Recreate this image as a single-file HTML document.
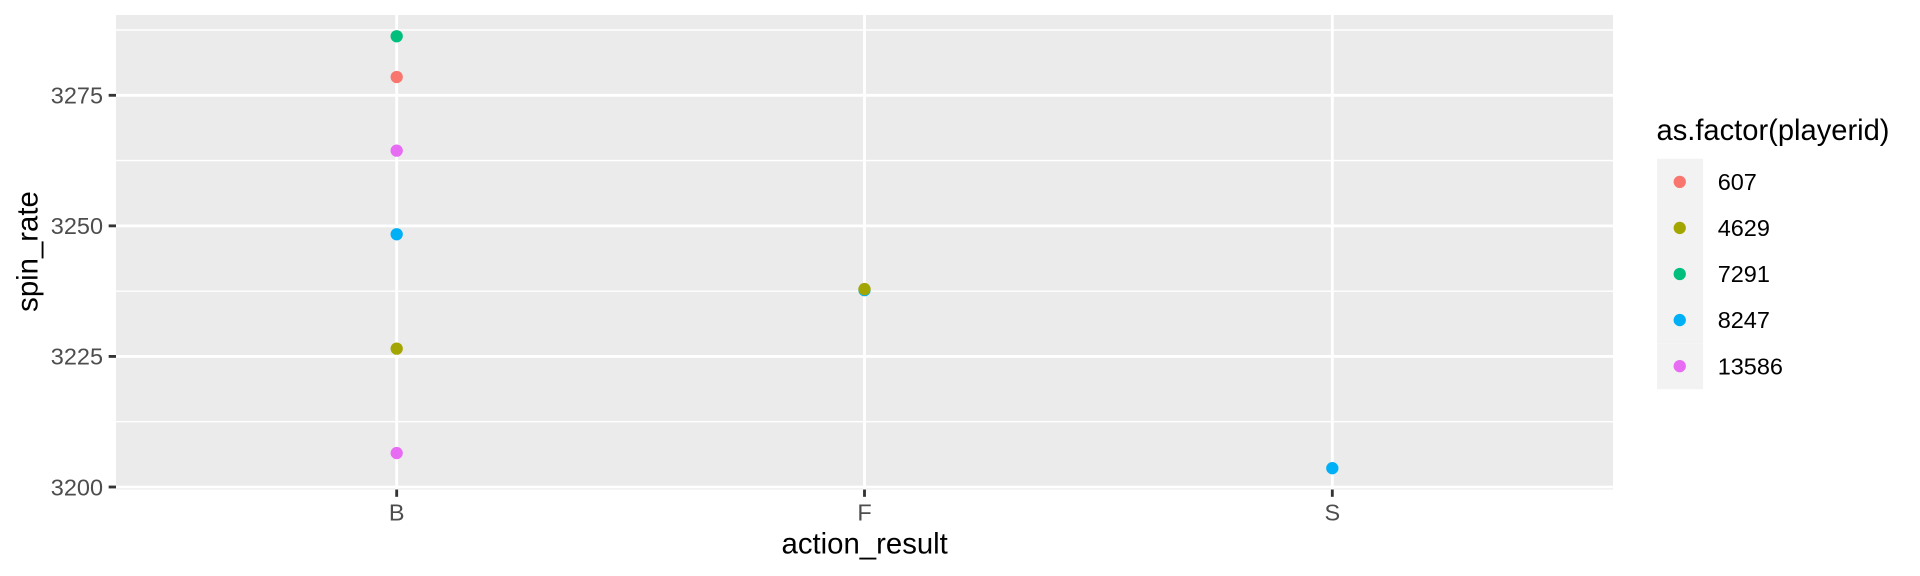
<!DOCTYPE html>
<html lang="en">
<head>
<meta charset="utf-8">
<title>spin_rate by action_result</title>
<style>
  html, body { margin: 0; padding: 0; background: #fff; }
  svg { display: block; font-family: "Liberation Sans", sans-serif; }
</style>
</head>
<body>
<svg id="chart" xmlns="http://www.w3.org/2000/svg" width="1920" height="576" viewBox="0 0 1920 576">
  <rect x="0" y="0" width="1920" height="576" fill="#ffffff"/>
  <rect x="116" y="15" width="1497" height="474.5" fill="#EBEBEB"/>
  <g id="grid"></g>
  <g id="points"></g>
  <g id="axes"></g>
  <text x="864.7" y="553.4" font-size="29.33" text-anchor="middle" fill="#000">action_result</text>
  <text transform="translate(37.5 251.5) rotate(-90)" font-size="29.33" text-anchor="middle" fill="#000">spin_rate</text>
  <g id="legend">
    <text x="1656.5" y="140" font-size="29.33" textLength="233" lengthAdjust="spacingAndGlyphs" fill="#000">as.factor(playerid)</text>
  </g>
</svg>
<script>
const categories = ['B', 'F', 'S'];
const players = ['607', '4629', '7291', '8247', '13586'];
const playerColors = ['#F8766D', '#A3A500', '#00BF7D', '#00B0F6', '#E76BF3'];
const pointCategories = ['B', 'B', 'B', 'B', 'B', 'B', 'F', 'F', 'S'];
const pointPlayers = ['7291', '607', '13586', '8247', '4629', '13586', '8247', '4629', '8247'];
const pointValues = [3286.3, 3278.5, 3264.4, 3248.4, 3226.5, 3206.5, 3237.7, 3237.9, 3203.6];
const yMajorTicks = [3200, 3225, 3250, 3275];
const yMinorTicks = [3212.5, 3237.5, 3262.5, 3287.5];

const SVG_NS = 'http://www.w3.org/2000/svg';
const panelLeft = 116, panelRight = 1613, panelTop = 14.97, panelBottom = 489.77;
const yDomainMin = 3199.47, yDomainMax = 3290.38;

function xScale(category) {
  const unit = (panelRight - panelLeft) / (categories.length - 1 + 1.2);
  return panelLeft + (0.6 + categories.indexOf(category)) * unit;
}
function yScale(value) {
  return panelBottom - (value - yDomainMin) / (yDomainMax - yDomainMin) * (panelBottom - panelTop);
}
function make(tag, parent, props) {
  const node = document.createElementNS(SVG_NS, tag);
  for (const key in props) node.setAttribute(key, props[key]);
  parent.appendChild(node);
  return node;
}

const grid = document.getElementById('grid');
const points = document.getElementById('points');
const axes = document.getElementById('axes');
const legend = document.getElementById('legend');

yMinorTicks.forEach(function (tick) {
  const y = yScale(tick);
  const line = make('line', grid, { x1: panelLeft, x2: panelRight, y1: y, y2: y, stroke: '#fff', 'stroke-width': 1.42 });
  
  
});
yMajorTicks.forEach(function (tick) {
  const y = yScale(tick);
  const line = make('line', grid, { x1: panelLeft, x2: panelRight, y1: y, y2: y, stroke: '#fff', 'stroke-width': 2.84 });
  
  

  const mark = make('line', axes, { x1: panelLeft - 7.33, x2: panelLeft, y1: y, y2: y, stroke: '#333333', 'stroke-width': 2.84 });
  
  

  const label = make('text', axes, { x: 103, y: y + 8.3, 'font-size': 23.47, 'text-anchor': 'end', fill: '#4D4D4D' });
  label.textContent = String(tick);
  
  
});
categories.forEach(function (category) {
  const x = xScale(category);
  const line = make('line', grid, { x1: x, x2: x, y1: 15, y2: 489.5, stroke: '#fff', 'stroke-width': 2.84 });
  
  

  const mark = make('line', axes, { x1: x, x2: x, y1: 489.5, y2: 496.83, stroke: '#333333', 'stroke-width': 2.84 });
  
  

  const label = make('text', axes, { x: x, y: 520.3, 'font-size': 23.47, 'text-anchor': 'middle', fill: '#4D4D4D' });
  label.textContent = category;
  
  
});

pointValues.forEach(function (value, i) {
  const dot = make('circle', points, {
    cx: xScale(pointCategories[i]),
    cy: yScale(value),
    r: 6.15,
    fill: playerColors[players.indexOf(pointPlayers[i])]
  });
  
  
});

const keyLeft = 1657, keyTop = 158.8, keySize = 46.08;
players.forEach(function (player, i) {
  const top = keyTop + i * keySize;
  const key = make('rect', legend, { x: keyLeft, y: top, width: keySize, height: keySize, fill: '#F2F2F2' });
  
  

  const swatch = make('circle', legend, { cx: keyLeft + keySize / 2 - 0.3, cy: top + keySize / 2, r: 6.15, fill: playerColors[i] });
  
  

  const label = make('text', legend, { x: 1717.7, y: top + keySize / 2 + 8.1, 'font-size': 23.47, fill: '#000' });
  label.textContent = player;
  
  
});
</script>
</body>
</html>
